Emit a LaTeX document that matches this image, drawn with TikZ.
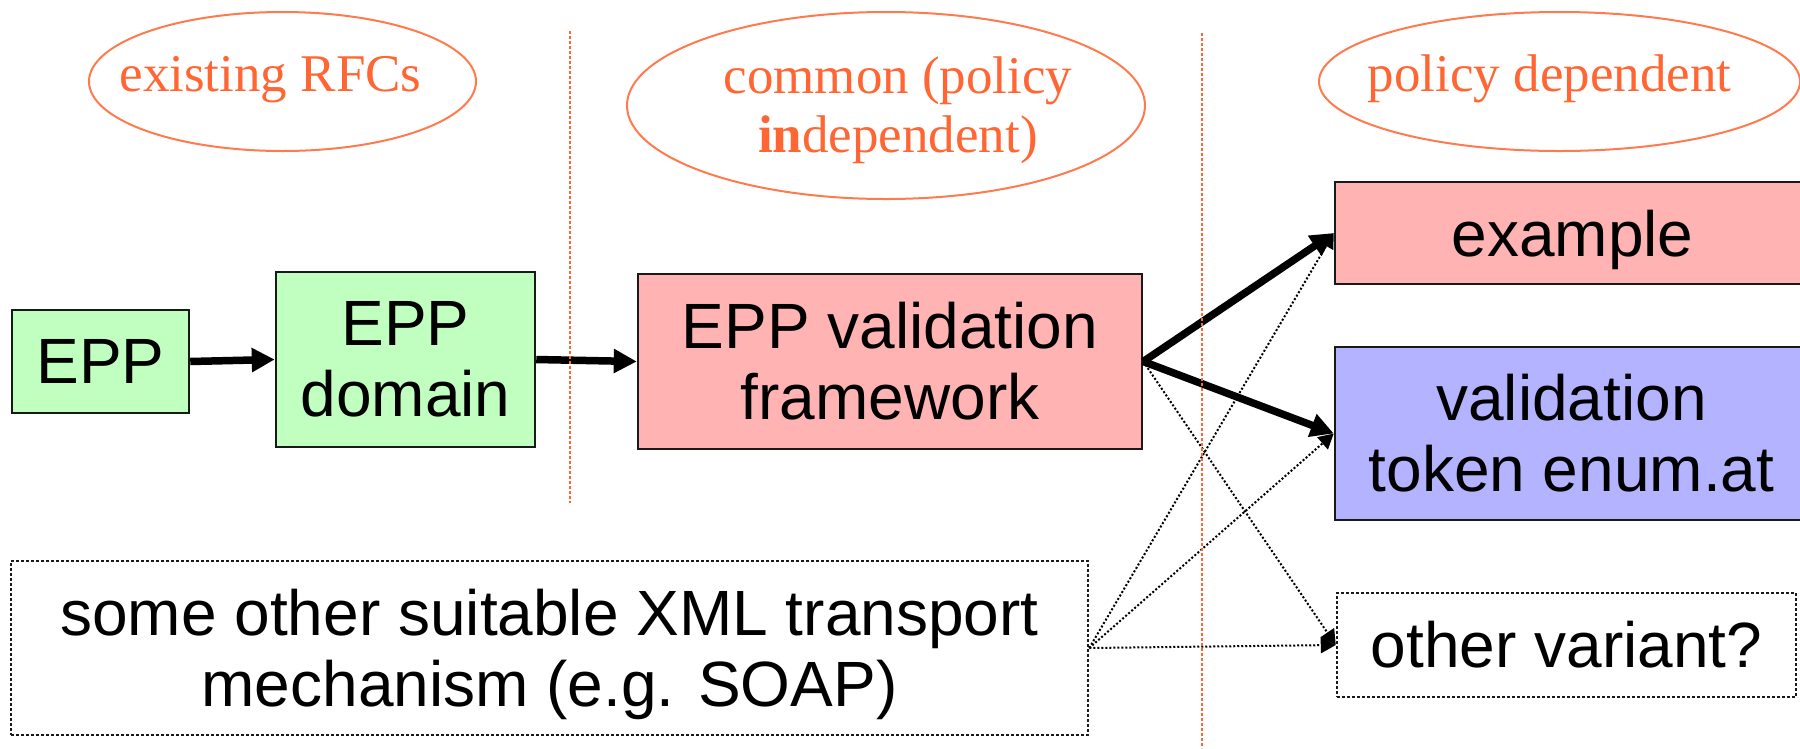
\documentclass[tikz,border=0pt]{standalone}
\usepackage{fontspec}
\setmainfont{Liberation Sans}
\newfontfamily\labelserif{Liberation Serif}
\usetikzlibrary{arrows.meta,shapes.geometric}

\definecolor{epgreen}{HTML}{C0FFC0}
\definecolor{eppink}{HTML}{FFB3B3}
\definecolor{epblue}{HTML}{B3B3FF}
\definecolor{zoneorange}{HTML}{FF6633}
\definecolor{zoneline}{HTML}{FF7A4D}

\begin{document}
\begin{tikzpicture}[x=1pt,y=-1pt,
  box/.style={draw=black!90, line width=2.5pt, inner sep=0pt, align=center,
    font={\fontsize{64}{71}\selectfont}},
  dotbox/.style={box, dash pattern=on 3pt off 2pt},
  zone/.style={ellipse, draw=zoneline, line width=2pt, inner sep=0pt},
  zonetext/.style={text=zoneorange, inner sep=0pt, align=center,
    font={\labelserif\fontsize{53}{59}\selectfont}},
  divider/.style={draw=zoneorange, line width=2.5pt, dash pattern=on 3pt off 2pt},
  flow/.style={line width=7.5pt, -{Triangle[length=23pt,width=23pt]}},
  maybe/.style={line width=2pt, dash pattern=on 2pt off 2pt,
    -{Triangle[length=15pt,width=16pt]}},
]
\useasboundingbox (0,0) rectangle (1800,748);

% zone headings
\node[zone, minimum width=387pt, minimum height=139pt] (zrfc) at (282.5,81.5) {};
\node[zonetext, anchor=base] (trfc) at (270.5,91) {existing RFCs};
\node[zone, minimum width=518pt, minimum height=187pt] (zcommon) at (886,105.5) {};
\node[zonetext] (tcommon) at (898,110) {common (policy\\{\bfseries in}dependent)};
\node[zone, minimum width=481pt, minimum height=139pt] (zpolicy) at (1559.5,81.5) {};
\node[zonetext, anchor=base] (tpolicy) at (1549.5,91) {policy dependent};

% protocol boxes
\node[box, fill=epgreen, minimum width=177pt, minimum height=103pt] (epp) at (100.5,361.5) {EPP};
\node[box, fill=epgreen, minimum width=259pt, minimum height=175pt] (dom) at (405.5,359.5) {EPP\\domain};
\node[box, fill=eppink, minimum width=504pt, minimum height=175pt] (fw) at (890,361.5) {EPP validation\\framework};
\node[box, fill=eppink, minimum width=475pt, minimum height=102pt, text depth=0pt] (ex) at (1572.5,233) {example};
\node[box, fill=epblue, minimum width=473pt, minimum height=173pt] (val) at (1571.5,433.5) {validation\\token enum.at};
\node[dotbox, minimum width=1077pt, minimum height=174pt, text depth=0pt] (soap) at (549.5,648) {some other suitable XML transport\\mechanism (e.g. SOAP)};
\node[dotbox, minimum width=459pt, minimum height=104pt] (oth) at (1566.5,645) {other variant?};

% main flow
\draw[flow] (epp.east) -- (dom.west);
\draw[flow] (dom.east) -- (fw.west);
\draw[flow] (fw.east) -- (ex.west);
\draw[flow] (fw.east) -- (val.west);

% possible alternatives
\draw[maybe] (fw.east) -- (oth.west);
\draw[maybe] (soap.east) -- (ex.west);
\draw[maybe] (soap.east) -- (val.west);
\draw[maybe] (soap.east) -- (oth.west);

% zone dividers
\coordinate (d1top) at (570,31);
\coordinate (d1bot) at (570,503);
\coordinate (d2top) at (1202,33);
\coordinate (d2bot) at (1202,748);
\draw[divider] (d1top) -- (d1bot);
\draw[divider] (d2top) -- (d2bot);
\end{tikzpicture}
\end{document}
